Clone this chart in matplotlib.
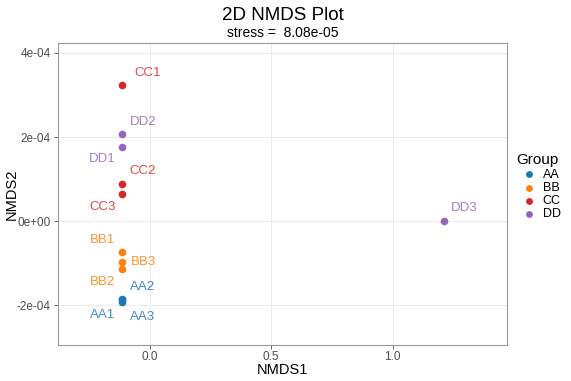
import matplotlib.pyplot as plt
import numpy as np

plt.rcParams['font.family'] = ['Liberation Sans', 'DejaVu Sans']

samples = ['AA1', 'AA2', 'AA3', 'BB1', 'BB2', 'BB3',
           'CC1', 'CC2', 'CC3', 'DD1', 'DD2', 'DD3']
groups = ['AA', 'AA', 'AA', 'BB', 'BB', 'BB',
          'CC', 'CC', 'CC', 'DD', 'DD', 'DD']
nmds1 = [-0.113, -0.113, -0.113, -0.113, -0.113, -0.113,
         -0.113, -0.113, -0.113, -0.113, -0.113, 1.21]
nmds2 = [-1.86e-4, -1.89e-4, -1.93e-4, -0.73e-4, -1.14e-4, -0.98e-4,
         3.24e-4, 0.89e-4, 0.64e-4, 1.77e-4, 2.06e-4, 0.0]
stress = 8.08e-05

group_names = ['AA', 'BB', 'CC', 'DD']
group_colors = {'AA': '#1F77B4', 'BB': '#FF7F0E', 'CC': '#D62728', 'DD': '#9467BD'}

# label offsets in pixels (repel-style placement)
label_offsets = {
    'AA1': (-20, -16), 'AA2': (20, 13), 'AA3': (20, -15),
    'BB1': (-20, 12), 'BB2': (-20, -13), 'BB3': (21, 0),
    'CC1': (26, 12), 'CC2': (20, 13), 'CC3': (-20, -13),
    'DD1': (-20, -12), 'DD2': (21, 12), 'DD3': (20, 13),
}

fig = plt.figure(figsize=(5.71, 3.81), dpi=100)
ax = fig.add_axes([0.101, 0.0945, 0.787, 0.7935])

for g in group_names:
    xs = [x for x, gg in zip(nmds1, groups) if gg == g]
    ys = [y for y, gg in zip(nmds2, groups) if gg == g]
    ax.scatter(xs, ys, s=30, color=group_colors[g], label=g, zorder=3, linewidths=0)

for name, g, x, y in zip(samples, groups, nmds1, nmds2):
    dx, dy = label_offsets[name]
    arrow = None
    if name == 'AA1':
        arrow = dict(arrowstyle='-', color=group_colors[g], lw=0.5, alpha=0.7,
                     shrinkA=6, shrinkB=2)
    ax.annotate(name, (x, y), xytext=(dx, dy), textcoords='offset pixels',
                ha='center', va='center', fontsize=9.5, color=group_colors[g],
                alpha=0.85, arrowprops=arrow, zorder=4)

ax.set_xlim(-0.378, 1.47)
ax.set_ylim(-2.95e-4, 4.245e-4)
ax.set_xticks([0.0, 0.5, 1.0])
ax.set_xticklabels(['0.0', '0.5', '1.0'])
ax.set_yticks([-2e-4, 0, 2e-4, 4e-4])
ax.set_yticklabels(['-2e-04', '0e+00', '2e-04', '4e-04'])
ax.tick_params(colors='#4D4D4D', labelsize=8.5, length=3, width=0.6, pad=2)
ax.tick_params(axis='x', pad=1)
ax.grid(True, color='#EBEBEB', lw=0.7, zorder=0)
ax.set_axisbelow(True)
for s in ax.spines.values():
    s.set_color('#999999')
    s.set_linewidth(0.8)

fig.text(0.4947, 0.028, 'NMDS1', ha='center', va='center', fontsize=10.5)
fig.text(0.021, 0.49, 'NMDS2', ha='center', va='center', fontsize=10.5, rotation=90)

fig.text(0.4947, 0.96, '2D NMDS Plot', ha='center', va='center', fontsize=13.5)
fig.text(0.4947, 0.914, f'stress =  {stress:.2e}', ha='center', va='center', fontsize=10)

leg = ax.legend(title='Group', loc='upper left', bbox_to_anchor=(1.01, 0.65),
                frameon=False, fontsize=9, title_fontsize=11, handletextpad=0.1,
                labelspacing=0.1, markerscale=0.9, borderaxespad=0)
leg._legend_box.align = 'left'

fig.savefig('out.png', dpi=100)
